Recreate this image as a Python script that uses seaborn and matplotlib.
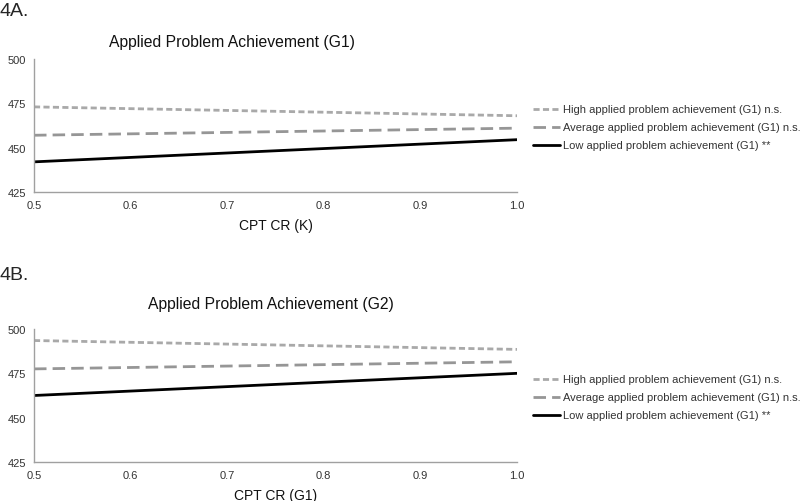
import numpy as np
import pandas as pd
import matplotlib
matplotlib.use("Agg")
import matplotlib.pyplot as plt
import seaborn as sns

# x values (CPT CR) and predicted achievement at each end of the range
cpt_cr = [0.5, 1.0]
groups = ["High applied problem achievement (G1) n.s.",
          "Average applied problem achievement (G1) n.s.",
          "Low applied problem achievement (G1) **"]

panel_a_high = [473.0, 468.0]
panel_a_avg = [457.0, 461.0]
panel_a_low = [442.0, 454.5]

panel_b_high = [493.5, 488.5]
panel_b_avg = [477.5, 481.5]
panel_b_low = [462.5, 475.0]

x_ticks = [0.5, 0.6, 0.7, 0.8, 0.9, 1.0]
y_ticks = [425, 450, 475, 500]

sns.set_style("white")
plt.rcParams['font.family'] = ['Liberation Sans', 'DejaVu Sans']

line_styles = {
    groups[0]: dict(color="#a9a9a9", dashes=(2.2, 1.2), lw=2.0),
    groups[1]: dict(color="#969696", dashes=(4.5, 2.2), lw=2.0),
    groups[2]: dict(color="#000000", dashes=None, lw=2.0),
}


def draw_panel(ax, high, avg, low, title, title_x, title_y, xlabel):
    df = pd.DataFrame({
        "x": cpt_cr * 3,
        "y": high + avg + low,
        "group": [groups[0]] * 2 + [groups[1]] * 2 + [groups[2]] * 2,
    })
    for g in groups:
        st = line_styles[g]
        sub = df[df["group"] == g]
        kw = dict(color=st["color"], lw=st["lw"], label=g)
        if st["dashes"] is not None:
            kw["dashes"] = st["dashes"]
        sns.lineplot(data=sub, x="x", y="y", ax=ax, **kw)
    ax.set_xlim(0.5, 1.0)
    ax.set_ylim(425, 500)
    ax.set_xticks(x_ticks)
    ax.set_xticklabels([f"{t:.1f}" for t in x_ticks])
    ax.set_yticks(y_ticks)
    ax.tick_params(axis="both", labelsize=8, length=5, width=0.8,
                   direction="inout", pad=3, labelcolor="#333333", color="#a0a0a0")
    for s in ["top", "right"]:
        ax.spines[s].set_visible(False)
    for s in ["left", "bottom"]:
        ax.spines[s].set_color("#a0a0a0")
        ax.spines[s].set_linewidth(1.0)
    ax.text(title_x, title_y, title, transform=ax.transAxes, fontsize=11.3,
            ha="center", va="center", color="#111111")
    ax.set_xlabel(xlabel, fontsize=10, labelpad=6, color="#111111")
    ax.set_ylabel("")
    ax.legend(loc="center left", bbox_to_anchor=(1.033, 0.485), frameon=False,
              fontsize=8, handlelength=2.45, handletextpad=0.25, labelspacing=0.72,
              borderpad=0, borderaxespad=0, labelcolor="#333333")


fig = plt.figure(figsize=(8.0, 5.02), dpi=100)
ax_a = fig.add_axes([34 / 800, 1 - 193 / 502, 483 / 800, 133 / 502])
ax_b = fig.add_axes([34 / 800, 1 - 463 / 502, 483 / 800, 133 / 502])

draw_panel(ax_a, panel_a_high, panel_a_avg, panel_a_low,
           "Applied Problem Achievement (G1)", (232 - 34) / 483, (193 - 43) / 133,
           "CPT CR (K)")
draw_panel(ax_b, panel_b_high, panel_b_avg, panel_b_low,
           "Applied Problem Achievement (G2)", (271 - 34) / 483, (463 - 305) / 133,
           "CPT CR (G1)")

fig.text(0.0, 1 - 11 / 502, "4A.", fontsize=14, va="center", ha="left")
fig.text(0.0, 1 - 276 / 502, "4B.", fontsize=14, va="center", ha="left")

fig.savefig("out.png", dpi=100)
